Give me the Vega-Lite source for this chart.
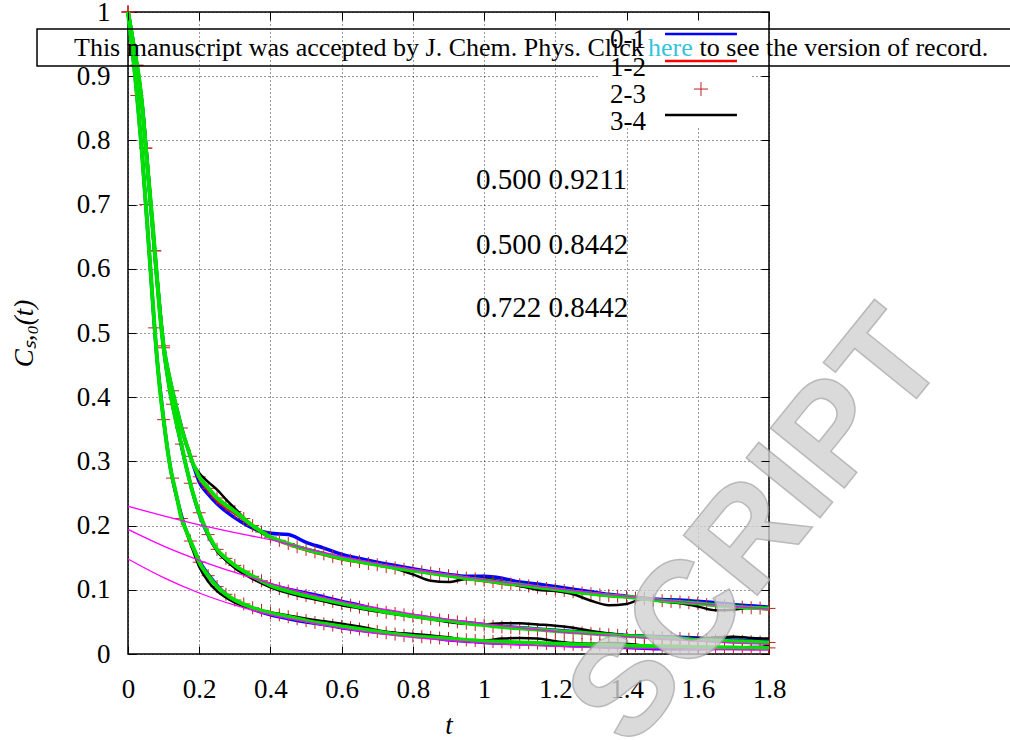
{
"$schema": "https://vega.github.io/schema/vega-lite/v6.json",
"width": 641, "height": 642,
"autosize": {"type": "none"},
"padding": {"left": 128, "top": 12, "right": 241, "bottom": 86},
"background": "white",
"config": {
  "view": {"stroke": "#000", "strokeWidth": 1.5},
  "axis": {"domain": false, "grid": true, "gridColor": "#000", "gridDash": [1, 3], "gridWidth": 0.8, "gridOpacity": 1,
    "tickColor": "#000", "tickSize": -8, "tickWidth": 1, "labelFont": "Liberation Serif", "labelFontSize": 27, "labelColor": "#000",
    "titleFont": "Liberation Serif", "titleFontSize": 27, "titleFontWeight": "normal", "titleColor": "#000", "labelFlush": false, "labelOverlap": false},
  "text": {"font": "Liberation Serif", "color": "#000"}
},
"datasets": {
"exp": [
{"s":"0-1","t":0,"A":1,"B":1,"C":1},
{"s":"0-1","t":0.02,"A":0.934,"B":0.934,"C":0.9},
{"s":"0-1","t":0.04,"A":0.853,"B":0.853,"C":0.775},
{"s":"0-1","t":0.06,"A":0.725,"B":0.725,"C":0.623},
{"s":"0-1","t":0.08,"A":0.594,"B":0.594,"C":0.47},
{"s":"0-1","t":0.1,"A":0.48,"B":0.477,"C":0.365},
{"s":"0-1","t":0.12,"A":0.422,"B":0.403,"C":0.287},
{"s":"0-1","t":0.14,"A":0.375,"B":0.35,"C":0.237},
{"s":"0-1","t":0.16,"A":0.334,"B":0.3,"C":0.197},
{"s":"0-1","t":0.18,"A":0.3,"B":0.255,"C":0.17},
{"s":"0-1","t":0.2,"A":0.268,"B":0.218,"C":0.145},
{"s":"0-1","t":0.225,"A":0.249,"B":0.185,"C":0.124},
{"s":"0-1","t":0.25,"A":0.234,"B":0.162,"C":0.107},
{"s":"0-1","t":0.275,"A":0.222,"B":0.147,"C":0.093},
{"s":"0-1","t":0.3,"A":0.212,"B":0.136,"C":0.083},
{"s":"0-1","t":0.35,"A":0.196,"B":0.12,"C":0.07},
{"s":"0-1","t":0.4,"A":0.188,"B":0.108,"C":0.061},
{"s":"0-1","t":0.45,"A":0.186,"B":0.101,"C":0.055},
{"s":"0-1","t":0.5,"A":0.174,"B":0.095,"C":0.05},
{"s":"0-1","t":0.55,"A":0.165,"B":0.089,"C":0.046},
{"s":"0-1","t":0.6,"A":0.155,"B":0.082,"C":0.041},
{"s":"0-1","t":0.65,"A":0.149,"B":0.076,"C":0.037},
{"s":"0-1","t":0.7,"A":0.143,"B":0.069,"C":0.034},
{"s":"0-1","t":0.75,"A":0.138,"B":0.064,"C":0.032},
{"s":"0-1","t":0.8,"A":0.133,"B":0.06,"C":0.03},
{"s":"0-1","t":0.85,"A":0.128,"B":0.056,"C":0.026},
{"s":"0-1","t":0.9,"A":0.124,"B":0.052,"C":0.022},
{"s":"0-1","t":0.95,"A":0.121,"B":0.049,"C":0.02},
{"s":"0-1","t":1.0,"A":0.121,"B":0.046,"C":0.018},
{"s":"0-1","t":1.05,"A":0.118,"B":0.043,"C":0.017},
{"s":"0-1","t":1.1,"A":0.112,"B":0.041,"C":0.016},
{"s":"0-1","t":1.15,"A":0.109,"B":0.039,"C":0.015},
{"s":"0-1","t":1.2,"A":0.105,"B":0.037,"C":0.014},
{"s":"0-1","t":1.25,"A":0.101,"B":0.035,"C":0.013},
{"s":"0-1","t":1.3,"A":0.097,"B":0.033,"C":0.012},
{"s":"0-1","t":1.35,"A":0.093,"B":0.031,"C":0.011},
{"s":"0-1","t":1.4,"A":0.09,"B":0.029,"C":0.01},
{"s":"0-1","t":1.45,"A":0.087,"B":0.028,"C":0.009},
{"s":"0-1","t":1.5,"A":0.085,"B":0.027,"C":0.008},
{"s":"0-1","t":1.55,"A":0.084,"B":0.026,"C":0.008},
{"s":"0-1","t":1.6,"A":0.082,"B":0.025,"C":0.008},
{"s":"0-1","t":1.65,"A":0.08,"B":0.023,"C":0.009},
{"s":"0-1","t":1.7,"A":0.077,"B":0.022,"C":0.009},
{"s":"0-1","t":1.75,"A":0.075,"B":0.021,"C":0.01},
{"s":"0-1","t":1.8,"A":0.073,"B":0.02,"C":0.01},
{"s":"1-2","t":0,"A":1,"B":1,"C":1},
{"s":"1-2","t":0.02,"A":0.934,"B":0.934,"C":0.9},
{"s":"1-2","t":0.04,"A":0.853,"B":0.853,"C":0.775},
{"s":"1-2","t":0.06,"A":0.725,"B":0.725,"C":0.623},
{"s":"1-2","t":0.08,"A":0.594,"B":0.594,"C":0.47},
{"s":"1-2","t":0.1,"A":0.48,"B":0.477,"C":0.365},
{"s":"1-2","t":0.12,"A":0.422,"B":0.403,"C":0.287},
{"s":"1-2","t":0.14,"A":0.375,"B":0.35,"C":0.237},
{"s":"1-2","t":0.16,"A":0.334,"B":0.3,"C":0.197},
{"s":"1-2","t":0.18,"A":0.3,"B":0.255,"C":0.17},
{"s":"1-2","t":0.2,"A":0.272,"B":0.219,"C":0.143},
{"s":"1-2","t":0.225,"A":0.254,"B":0.186,"C":0.122},
{"s":"1-2","t":0.25,"A":0.238,"B":0.162,"C":0.105},
{"s":"1-2","t":0.275,"A":0.227,"B":0.149,"C":0.093},
{"s":"1-2","t":0.3,"A":0.218,"B":0.137,"C":0.084},
{"s":"1-2","t":0.35,"A":0.198,"B":0.12,"C":0.072},
{"s":"1-2","t":0.4,"A":0.181,"B":0.107,"C":0.064},
{"s":"1-2","t":0.45,"A":0.17,"B":0.098,"C":0.058},
{"s":"1-2","t":0.5,"A":0.161,"B":0.091,"C":0.052},
{"s":"1-2","t":0.55,"A":0.154,"B":0.085,"C":0.047},
{"s":"1-2","t":0.6,"A":0.147,"B":0.079,"C":0.043},
{"s":"1-2","t":0.65,"A":0.142,"B":0.073,"C":0.039},
{"s":"1-2","t":0.7,"A":0.138,"B":0.068,"C":0.035},
{"s":"1-2","t":0.75,"A":0.133,"B":0.063,"C":0.031},
{"s":"1-2","t":0.8,"A":0.129,"B":0.059,"C":0.028},
{"s":"1-2","t":0.85,"A":0.125,"B":0.055,"C":0.026},
{"s":"1-2","t":0.9,"A":0.121,"B":0.052,"C":0.024},
{"s":"1-2","t":0.95,"A":0.117,"B":0.048,"C":0.022},
{"s":"1-2","t":1.0,"A":0.113,"B":0.045,"C":0.02},
{"s":"1-2","t":1.05,"A":0.109,"B":0.042,"C":0.019},
{"s":"1-2","t":1.1,"A":0.106,"B":0.04,"C":0.018},
{"s":"1-2","t":1.15,"A":0.102,"B":0.038,"C":0.017},
{"s":"1-2","t":1.2,"A":0.099,"B":0.036,"C":0.016},
{"s":"1-2","t":1.25,"A":0.096,"B":0.034,"C":0.015},
{"s":"1-2","t":1.3,"A":0.093,"B":0.032,"C":0.0145},
{"s":"1-2","t":1.35,"A":0.09,"B":0.03,"C":0.014},
{"s":"1-2","t":1.4,"A":0.088,"B":0.028,"C":0.013},
{"s":"1-2","t":1.45,"A":0.085,"B":0.027,"C":0.0125},
{"s":"1-2","t":1.5,"A":0.082,"B":0.025,"C":0.012},
{"s":"1-2","t":1.55,"A":0.08,"B":0.024,"C":0.0115},
{"s":"1-2","t":1.6,"A":0.078,"B":0.022,"C":0.011},
{"s":"1-2","t":1.65,"A":0.075,"B":0.021,"C":0.0105},
{"s":"1-2","t":1.7,"A":0.073,"B":0.02,"C":0.01},
{"s":"1-2","t":1.75,"A":0.071,"B":0.019,"C":0.0098},
{"s":"1-2","t":1.8,"A":0.069,"B":0.018,"C":0.0095},
{"s":"3-4","t":0,"A":1,"B":1,"C":1},
{"s":"3-4","t":0.02,"A":0.934,"B":0.934,"C":0.9},
{"s":"3-4","t":0.04,"A":0.853,"B":0.853,"C":0.775},
{"s":"3-4","t":0.06,"A":0.725,"B":0.725,"C":0.623},
{"s":"3-4","t":0.08,"A":0.594,"B":0.594,"C":0.47},
{"s":"3-4","t":0.1,"A":0.48,"B":0.477,"C":0.365},
{"s":"3-4","t":0.12,"A":0.422,"B":0.403,"C":0.287},
{"s":"3-4","t":0.14,"A":0.375,"B":0.35,"C":0.237},
{"s":"3-4","t":0.16,"A":0.334,"B":0.3,"C":0.197},
{"s":"3-4","t":0.18,"A":0.3,"B":0.255,"C":0.165},
{"s":"3-4","t":0.2,"A":0.282,"B":0.222,"C":0.136},
{"s":"3-4","t":0.225,"A":0.268,"B":0.186,"C":0.113},
{"s":"3-4","t":0.25,"A":0.256,"B":0.16,"C":0.098},
{"s":"3-4","t":0.275,"A":0.241,"B":0.146,"C":0.088},
{"s":"3-4","t":0.3,"A":0.227,"B":0.134,"C":0.08},
{"s":"3-4","t":0.35,"A":0.198,"B":0.117,"C":0.071},
{"s":"3-4","t":0.4,"A":0.181,"B":0.104,"C":0.065},
{"s":"3-4","t":0.45,"A":0.172,"B":0.095,"C":0.06},
{"s":"3-4","t":0.5,"A":0.164,"B":0.088,"C":0.055},
{"s":"3-4","t":0.55,"A":0.157,"B":0.082,"C":0.051},
{"s":"3-4","t":0.6,"A":0.15,"B":0.076,"C":0.047},
{"s":"3-4","t":0.65,"A":0.145,"B":0.071,"C":0.043},
{"s":"3-4","t":0.7,"A":0.14,"B":0.066,"C":0.037},
{"s":"3-4","t":0.75,"A":0.133,"B":0.062,"C":0.033},
{"s":"3-4","t":0.8,"A":0.124,"B":0.058,"C":0.031},
{"s":"3-4","t":0.85,"A":0.114,"B":0.054,"C":0.029},
{"s":"3-4","t":0.9,"A":0.112,"B":0.05,"C":0.026},
{"s":"3-4","t":0.95,"A":0.117,"B":0.047,"C":0.022},
{"s":"3-4","t":1.0,"A":0.117,"B":0.046,"C":0.021},
{"s":"3-4","t":1.05,"A":0.113,"B":0.048,"C":0.024},
{"s":"3-4","t":1.1,"A":0.106,"B":0.048,"C":0.025},
{"s":"3-4","t":1.15,"A":0.1,"B":0.046,"C":0.024},
{"s":"3-4","t":1.2,"A":0.098,"B":0.044,"C":0.02},
{"s":"3-4","t":1.25,"A":0.093,"B":0.041,"C":0.017},
{"s":"3-4","t":1.3,"A":0.083,"B":0.036,"C":0.016},
{"s":"3-4","t":1.35,"A":0.076,"B":0.032,"C":0.017},
{"s":"3-4","t":1.4,"A":0.078,"B":0.029,"C":0.016},
{"s":"3-4","t":1.45,"A":0.086,"B":0.027,"C":0.013},
{"s":"3-4","t":1.5,"A":0.082,"B":0.025,"C":0.01},
{"s":"3-4","t":1.55,"A":0.079,"B":0.024,"C":0.008},
{"s":"3-4","t":1.6,"A":0.074,"B":0.024,"C":0.009},
{"s":"3-4","t":1.65,"A":0.068,"B":0.026,"C":0.01},
{"s":"3-4","t":1.7,"A":0.069,"B":0.027,"C":0.01},
{"s":"3-4","t":1.75,"A":0.072,"B":0.025,"C":0.008},
{"s":"3-4","t":1.8,"A":0.071,"B":0.024,"C":0.014},
{"s":"2-3","t":0,"A":1,"B":1,"C":1},
{"s":"2-3","t":0.025,"A":0.917,"B":0.917,"C":0.87},
{"s":"2-3","t":0.05,"A":0.788,"B":0.788,"C":0.7},
{"s":"2-3","t":0.075,"A":0.628,"B":0.628,"C":0.508},
{"s":"2-3","t":0.1,"A":0.48,"B":0.477,"C":0.365},
{"s":"2-3","t":0.125,"A":0.41,"B":0.389,"C":0.274},
{"s":"2-3","t":0.15,"A":0.352,"B":0.327,"C":0.211},
{"s":"2-3","t":0.175,"A":0.308,"B":0.266,"C":0.176},
{"s":"2-3","t":0.2,"A":0.276,"B":0.22,"C":0.143},
{"s":"2-3","t":0.225,"A":0.258,"B":0.186,"C":0.122},
{"s":"2-3","t":0.25,"A":0.243,"B":0.163,"C":0.105},
{"s":"2-3","t":0.275,"A":0.232,"B":0.149,"C":0.093},
{"s":"2-3","t":0.3,"A":0.222,"B":0.138,"C":0.084},
{"s":"2-3","t":0.325,"A":0.211,"B":0.129,"C":0.078},
{"s":"2-3","t":0.35,"A":0.2,"B":0.121,"C":0.072},
{"s":"2-3","t":0.375,"A":0.19,"B":0.114,"C":0.068},
{"s":"2-3","t":0.4,"A":0.182,"B":0.107,"C":0.064},
{"s":"2-3","t":0.425,"A":0.177,"B":0.102,"C":0.061},
{"s":"2-3","t":0.45,"A":0.172,"B":0.098,"C":0.058},
{"s":"2-3","t":0.475,"A":0.167,"B":0.094,"C":0.055},
{"s":"2-3","t":0.5,"A":0.163,"B":0.091,"C":0.052},
{"s":"2-3","t":0.525,"A":0.159,"B":0.088,"C":0.049},
{"s":"2-3","t":0.55,"A":0.156,"B":0.085,"C":0.047},
{"s":"2-3","t":0.575,"A":0.152,"B":0.082,"C":0.045},
{"s":"2-3","t":0.6,"A":0.149,"B":0.079,"C":0.043},
{"s":"2-3","t":0.625,"A":0.146,"B":0.076,"C":0.041},
{"s":"2-3","t":0.65,"A":0.144,"B":0.073,"C":0.039},
{"s":"2-3","t":0.675,"A":0.141,"B":0.07,"C":0.037},
{"s":"2-3","t":0.7,"A":0.139,"B":0.068,"C":0.035},
{"s":"2-3","t":0.725,"A":0.136,"B":0.065,"C":0.033},
{"s":"2-3","t":0.75,"A":0.134,"B":0.063,"C":0.031},
{"s":"2-3","t":0.775,"A":0.132,"B":0.061,"C":0.029},
{"s":"2-3","t":0.8,"A":0.13,"B":0.059,"C":0.028},
{"s":"2-3","t":0.825,"A":0.128,"B":0.057,"C":0.027},
{"s":"2-3","t":0.85,"A":0.126,"B":0.055,"C":0.026},
{"s":"2-3","t":0.875,"A":0.124,"B":0.053,"C":0.025},
{"s":"2-3","t":0.9,"A":0.122,"B":0.052,"C":0.024},
{"s":"2-3","t":0.925,"A":0.12,"B":0.05,"C":0.023},
{"s":"2-3","t":0.95,"A":0.118,"B":0.048,"C":0.022},
{"s":"2-3","t":0.975,"A":0.117,"B":0.046,"C":0.021},
{"s":"2-3","t":1.0,"A":0.115,"B":0.045,"C":0.02},
{"s":"2-3","t":1.025,"A":0.113,"B":0.043,"C":0.0195},
{"s":"2-3","t":1.05,"A":0.111,"B":0.042,"C":0.019},
{"s":"2-3","t":1.075,"A":0.109,"B":0.041,"C":0.0185},
{"s":"2-3","t":1.1,"A":0.108,"B":0.04,"C":0.018},
{"s":"2-3","t":1.125,"A":0.106,"B":0.039,"C":0.0175},
{"s":"2-3","t":1.15,"A":0.104,"B":0.038,"C":0.017},
{"s":"2-3","t":1.175,"A":0.102,"B":0.037,"C":0.0165},
{"s":"2-3","t":1.2,"A":0.101,"B":0.036,"C":0.016},
{"s":"2-3","t":1.225,"A":0.099,"B":0.035,"C":0.0155},
{"s":"2-3","t":1.25,"A":0.097,"B":0.034,"C":0.015},
{"s":"2-3","t":1.275,"A":0.095,"B":0.033,"C":0.0148},
{"s":"2-3","t":1.3,"A":0.094,"B":0.032,"C":0.0145},
{"s":"2-3","t":1.325,"A":0.092,"B":0.031,"C":0.0142},
{"s":"2-3","t":1.35,"A":0.091,"B":0.03,"C":0.014},
{"s":"2-3","t":1.375,"A":0.09,"B":0.029,"C":0.0135},
{"s":"2-3","t":1.4,"A":0.089,"B":0.028,"C":0.013},
{"s":"2-3","t":1.425,"A":0.087,"B":0.0275,"C":0.0128},
{"s":"2-3","t":1.45,"A":0.086,"B":0.027,"C":0.0125},
{"s":"2-3","t":1.475,"A":0.084,"B":0.026,"C":0.0122},
{"s":"2-3","t":1.5,"A":0.083,"B":0.025,"C":0.012},
{"s":"2-3","t":1.525,"A":0.082,"B":0.0245,"C":0.0118},
{"s":"2-3","t":1.55,"A":0.081,"B":0.024,"C":0.0115},
{"s":"2-3","t":1.575,"A":0.08,"B":0.023,"C":0.0112},
{"s":"2-3","t":1.6,"A":0.079,"B":0.022,"C":0.011},
{"s":"2-3","t":1.625,"A":0.077,"B":0.0215,"C":0.0108},
{"s":"2-3","t":1.65,"A":0.076,"B":0.021,"C":0.0105},
{"s":"2-3","t":1.675,"A":0.075,"B":0.0205,"C":0.0102},
{"s":"2-3","t":1.7,"A":0.074,"B":0.02,"C":0.01},
{"s":"2-3","t":1.725,"A":0.073,"B":0.0195,"C":0.0099},
{"s":"2-3","t":1.75,"A":0.072,"B":0.019,"C":0.0098},
{"s":"2-3","t":1.775,"A":0.0715,"B":0.0185,"C":0.0097},
{"s":"2-3","t":1.8,"A":0.071,"B":0.018,"C":0.0095}
],
"fit": [
{"t":0,"A":1,"B":1,"C":1},
{"t":0.01,"A":0.967,"B":0.967,"C":0.95},
{"t":0.02,"A":0.934,"B":0.934,"C":0.9},
{"t":0.03,"A":0.9,"B":0.9,"C":0.84},
{"t":0.04,"A":0.853,"B":0.853,"C":0.775},
{"t":0.05,"A":0.788,"B":0.788,"C":0.7},
{"t":0.06,"A":0.725,"B":0.725,"C":0.623},
{"t":0.07,"A":0.662,"B":0.662,"C":0.545},
{"t":0.08,"A":0.594,"B":0.594,"C":0.47},
{"t":0.09,"A":0.53,"B":0.53,"C":0.41},
{"t":0.1,"A":0.48,"B":0.477,"C":0.365},
{"t":0.11,"A":0.448,"B":0.437,"C":0.322},
{"t":0.12,"A":0.422,"B":0.403,"C":0.287},
{"t":0.13,"A":0.398,"B":0.375,"C":0.262},
{"t":0.14,"A":0.375,"B":0.35,"C":0.237},
{"t":0.15,"A":0.352,"B":0.327,"C":0.211},
{"t":0.16,"A":0.334,"B":0.3,"C":0.197},
{"t":0.17,"A":0.317,"B":0.277,"C":0.183},
{"t":0.18,"A":0.3,"B":0.255,"C":0.17},
{"t":0.19,"A":0.288,"B":0.237,"C":0.157},
{"t":0.2,"A":0.276,"B":0.22,"C":0.143},
{"t":0.225,"A":0.259,"B":0.187,"C":0.122},
{"t":0.25,"A":0.243,"B":0.163,"C":0.105},
{"t":0.275,"A":0.232,"B":0.149,"C":0.093},
{"t":0.3,"A":0.222,"B":0.138,"C":0.084},
{"t":0.35,"A":0.2,"B":0.121,"C":0.072},
{"t":0.4,"A":0.182,"B":0.107,"C":0.064},
{"t":0.45,"A":0.172,"B":0.098,"C":0.058},
{"t":0.5,"A":0.163,"B":0.091,"C":0.052},
{"t":0.55,"A":0.156,"B":0.085,"C":0.047},
{"t":0.6,"A":0.149,"B":0.079,"C":0.043},
{"t":0.65,"A":0.144,"B":0.073,"C":0.039},
{"t":0.7,"A":0.139,"B":0.068,"C":0.035},
{"t":0.75,"A":0.134,"B":0.063,"C":0.031},
{"t":0.8,"A":0.13,"B":0.059,"C":0.028},
{"t":0.85,"A":0.126,"B":0.055,"C":0.026},
{"t":0.9,"A":0.122,"B":0.052,"C":0.024},
{"t":0.95,"A":0.118,"B":0.048,"C":0.022},
{"t":1.0,"A":0.115,"B":0.045,"C":0.02},
{"t":1.05,"A":0.111,"B":0.042,"C":0.019},
{"t":1.1,"A":0.108,"B":0.04,"C":0.018},
{"t":1.15,"A":0.104,"B":0.038,"C":0.017},
{"t":1.2,"A":0.101,"B":0.036,"C":0.016},
{"t":1.25,"A":0.097,"B":0.034,"C":0.015},
{"t":1.3,"A":0.094,"B":0.032,"C":0.0145},
{"t":1.35,"A":0.091,"B":0.03,"C":0.014},
{"t":1.4,"A":0.089,"B":0.028,"C":0.013},
{"t":1.45,"A":0.086,"B":0.027,"C":0.0125},
{"t":1.5,"A":0.083,"B":0.025,"C":0.012},
{"t":1.55,"A":0.081,"B":0.024,"C":0.0115},
{"t":1.6,"A":0.079,"B":0.022,"C":0.011},
{"t":1.65,"A":0.076,"B":0.021,"C":0.0105},
{"t":1.7,"A":0.074,"B":0.02,"C":0.01},
{"t":1.75,"A":0.072,"B":0.019,"C":0.0098},
{"t":1.8,"A":0.071,"B":0.018,"C":0.0095}
],
"tail": [
{"t":0,"A":0.23,"B":0.194,"C":0.148},
{"t":0.1,"A":0.215,"B":0.168,"C":0.119},
{"t":0.2,"A":0.201,"B":0.146,"C":0.095},
{"t":0.3,"A":0.189,"B":0.127,"C":0.076},
{"t":0.4,"A":0.178,"B":0.11,"C":0.061},
{"t":0.5,"A":0.164,"B":0.095,"C":0.05},
{"t":0.6,"A":0.152,"B":0.082,"C":0.04},
{"t":0.7,"A":0.141,"B":0.072,"C":0.032},
{"t":0.8,"A":0.132,"B":0.062,"C":0.026},
{"t":0.9,"A":0.124,"B":0.054,"C":0.021},
{"t":1.0,"A":0.116,"B":0.047,"C":0.017},
{"t":1.1,"A":0.109,"B":0.041,"C":0.014},
{"t":1.2,"A":0.102,"B":0.035,"C":0.012},
{"t":1.3,"A":0.096,"B":0.031,"C":0.01},
{"t":1.4,"A":0.09,"B":0.027,"C":0.009},
{"t":1.5,"A":0.084,"B":0.023,"C":0.008},
{"t":1.6,"A":0.079,"B":0.02,"C":0.007},
{"t":1.7,"A":0.074,"B":0.017,"C":0.0065},
{"t":1.8,"A":0.07,"B":0.015,"C":0.006}
]
},
"layer": [
{
  "data": {"name": "exp"},
  "transform": [{"filter": "datum.s == '0-1'"}, {"fold": ["A", "B", "C"], "as": ["g", "v"]}],
  "mark": {"type": "line", "interpolate": "monotone", "color": "#0000ff", "strokeWidth": 3.5},
  "encoding": {
    "x": {"field": "t", "type": "quantitative", "scale": {"domain": [0, 1.8], "nice": false, "zero": false},
      "axis": {"orient": "bottom", "values": [0, 0.2, 0.4, 0.6, 0.8, 1, 1.2, 1.4, 1.6, 1.8], "format": "~g", "labelPadding": 30, "title": "t", "titleFontStyle": "italic", "titlePadding": 10}},
    "y": {"field": "v", "type": "quantitative", "scale": {"domain": [0, 1], "nice": false, "zero": false},
      "axis": {"orient": "left", "values": [0, 0.1, 0.2, 0.3, 0.4, 0.5, 0.6, 0.7, 0.8, 0.9, 1], "format": "~g", "labelPadding": 26, "title": "Cₛ,₀(t)", "titleFontStyle": "italic", "titlePadding": 38}},
    "detail": {"field": "g"}
  }
},
{
  "data": {"name": "exp"},
  "transform": [{"filter": "datum.s == '1-2'"}, {"fold": ["A", "B", "C"], "as": ["g", "v"]}],
  "mark": {"type": "line", "interpolate": "monotone", "color": "#ff0000", "strokeWidth": 2},
  "encoding": {
    "x": {"field": "t", "type": "quantitative", "axis": null},
    "y": {"field": "v", "type": "quantitative", "axis": null},
    "detail": {"field": "g"}
  }
},
{
  "data": {"name": "exp"},
  "transform": [{"filter": "datum.s == '2-3'"}, {"fold": ["A", "B", "C"], "as": ["g", "v"]}],
  "mark": {"type": "point", "filled": false, "shape": "M-1,0H1M0,-1V1", "size": 169, "strokeWidth": 1, "color": "#c02020", "opacity": 1},
  "encoding": {
    "x": {"field": "t", "type": "quantitative", "axis": null},
    "y": {"field": "v", "type": "quantitative", "axis": null}
  }
},
{
  "data": {"name": "exp"},
  "transform": [{"filter": "datum.s == '3-4'"}, {"fold": ["A", "B", "C"], "as": ["g", "v"]}],
  "mark": {"type": "line", "interpolate": "monotone", "color": "#000000", "strokeWidth": 2.5},
  "encoding": {
    "x": {"field": "t", "type": "quantitative", "axis": null},
    "y": {"field": "v", "type": "quantitative", "axis": null},
    "detail": {"field": "g"}
  }
},
{
  "data": {"name": "fit"},
  "transform": [{"fold": ["A", "B", "C"], "as": ["g", "v"]}],
  "mark": {"type": "line", "interpolate": "monotone", "color": "#00e000", "strokeWidth": 4},
  "encoding": {
    "x": {"field": "t", "type": "quantitative", "axis": {"orient": "top", "labels": false, "grid": false, "title": null, "zindex": 1, "values": [0, 0.2, 0.4, 0.6, 0.8, 1, 1.2, 1.4, 1.6, 1.8]}},
    "y": {"field": "v", "type": "quantitative", "axis": {"orient": "right", "labels": false, "grid": false, "title": null, "zindex": 1, "values": [0, 0.1, 0.2, 0.3, 0.4, 0.5, 0.6, 0.7, 0.8, 0.9, 1]}},
    "detail": {"field": "g"}
  }
},
{
  "data": {"name": "tail"},
  "transform": [{"fold": ["A", "B", "C"], "as": ["g", "v"]}],
  "mark": {"type": "line", "interpolate": "monotone", "color": "#ff00ff", "strokeWidth": 1.3},
  "encoding": {
    "x": {"field": "t", "type": "quantitative", "axis": null},
    "y": {"field": "v", "type": "quantitative", "axis": null},
    "detail": {"field": "g"}
  }
},
{
  "data": {"values": [{}]},
  "mark": {"type": "text", "text": "0.500 0.9211", "align": "left", "baseline": "middle", "fontSize": 29},
  "encoding": {"x": {"datum": 0.977, "type": "quantitative", "axis": null}, "y": {"datum": 0.738, "type": "quantitative", "axis": null}}
},
{
  "data": {"values": [{}]},
  "mark": {"type": "text", "text": "0.500 0.8442", "align": "left", "baseline": "middle", "fontSize": 29},
  "encoding": {"x": {"datum": 0.977, "type": "quantitative", "axis": null}, "y": {"datum": 0.637, "type": "quantitative", "axis": null}}
},
{
  "data": {"values": [{}]},
  "mark": {"type": "text", "text": "0.722 0.8442", "align": "left", "baseline": "middle", "fontSize": 29},
  "encoding": {"x": {"datum": 0.977, "type": "quantitative", "axis": null}, "y": {"datum": 0.539, "type": "quantitative", "axis": null}}
},
{
  "data": {"values": [{}]},
  "mark": {"type": "rect", "fill": "#ffffff", "strokeWidth": 0},
  "encoding": {"x": {"datum": 1.32, "type": "quantitative", "axis": null}, "x2": {"datum": 1.752},
    "y": {"datum": 0.997, "type": "quantitative", "axis": null}, "y2": {"datum": 0.8193}}
},
{
  "data": {"values": [{}]},
  "mark": {"type": "rule", "color": "#0000ff", "strokeWidth": 2.5},
  "encoding": {"x": {"datum": 1.508, "type": "quantitative", "axis": null}, "x2": {"datum": 1.71}, "y": {"datum": 0.9657, "type": "quantitative", "axis": null}}
},
{
  "data": {"values": [{}]},
  "mark": {"type": "rule", "color": "#ff0000", "strokeWidth": 2.5},
  "encoding": {"x": {"datum": 1.508, "type": "quantitative", "axis": null}, "x2": {"datum": 1.71}, "y": {"datum": 0.9237, "type": "quantitative", "axis": null}}
},
{
  "data": {"values": [{}]},
  "mark": {"type": "point", "filled": false, "shape": "M-1,0H1M0,-1V1", "size": 196, "strokeWidth": 1, "color": "#c02020", "opacity": 1},
  "encoding": {"x": {"datum": 1.609, "type": "quantitative", "axis": null}, "y": {"datum": 0.88, "type": "quantitative", "axis": null}}
},
{
  "data": {"values": [{}]},
  "mark": {"type": "rule", "color": "#000000", "strokeWidth": 2.5},
  "encoding": {"x": {"datum": 1.508, "type": "quantitative", "axis": null}, "x2": {"datum": 1.71}, "y": {"datum": 0.8396, "type": "quantitative", "axis": null}}
},
{
  "data": {"values": [{}]},
  "mark": {"type": "text", "text": "0-1", "align": "right", "baseline": "middle", "fontSize": 27},
  "encoding": {"x": {"datum": 1.4547, "type": "quantitative", "axis": null}, "y": {"datum": 0.9564, "type": "quantitative", "axis": null}}
},
{
  "data": {"values": [{}]},
  "mark": {"type": "text", "text": "1-2", "align": "right", "baseline": "middle", "fontSize": 27},
  "encoding": {"x": {"datum": 1.4547, "type": "quantitative", "axis": null}, "y": {"datum": 0.9128, "type": "quantitative", "axis": null}}
},
{
  "data": {"values": [{}]},
  "mark": {"type": "text", "text": "2-3", "align": "right", "baseline": "middle", "fontSize": 27},
  "encoding": {"x": {"datum": 1.4547, "type": "quantitative", "axis": null}, "y": {"datum": 0.8707, "type": "quantitative", "axis": null}}
},
{
  "data": {"values": [{}]},
  "mark": {"type": "text", "text": "3-4", "align": "right", "baseline": "middle", "fontSize": 27},
  "encoding": {"x": {"datum": 1.4547, "type": "quantitative", "axis": null}, "y": {"datum": 0.8287, "type": "quantitative", "axis": null}}
},
{
  "data": {"values": [{}]},
  "mark": {"type": "rect", "fillOpacity": 0, "stroke": "#000", "strokeWidth": 1.5},
  "encoding": {"x": {"datum": -0.2555, "type": "quantitative", "axis": null}, "x2": {"datum": 2.6},
    "y": {"datum": 0.9735, "type": "quantitative", "axis": null}, "y2": {"datum": 0.9159}}
},
{
  "data": {"values": [{}]},
  "mark": {"type": "text", "text": "This manuscript was accepted by J. Chem. Phys. Click", "align": "left", "baseline": "alphabetic", "fontSize": 26},
  "encoding": {"x": {"datum": -0.1516, "type": "quantitative", "axis": null}, "y": {"datum": 0.9315, "type": "quantitative", "axis": null}}
},
{
  "data": {"values": [{}]},
  "mark": {"type": "text", "text": "here", "align": "left", "baseline": "alphabetic", "fontSize": 26, "color": "#35c3dc"},
  "encoding": {"x": {"datum": 1.4603, "type": "quantitative", "axis": null}, "y": {"datum": 0.9315, "type": "quantitative", "axis": null}}
},
{
  "data": {"values": [{}]},
  "mark": {"type": "text", "text": "to see the version of record.", "align": "left", "baseline": "alphabetic", "fontSize": 26},
  "encoding": {"x": {"datum": 1.605, "type": "quantitative", "axis": null}, "y": {"datum": 0.9315, "type": "quantitative", "axis": null}}
},
{
  "data": {"values": [{}]},
  "mark": {"type": "text", "text": "SCRIPT", "align": "center", "baseline": "middle", "font": "Liberation Sans", "fontWeight": "bold", "fontSize": 138, "angle": 309, "fill": "#d2d2d2", "stroke": "#a8a8a8", "strokeWidth": 1.5, "opacity": 0.8},
  "encoding": {"x": {"datum": 1.77, "type": "quantitative", "axis": null}, "y": {"datum": 0.195, "type": "quantitative", "axis": null}}
}
]
}
